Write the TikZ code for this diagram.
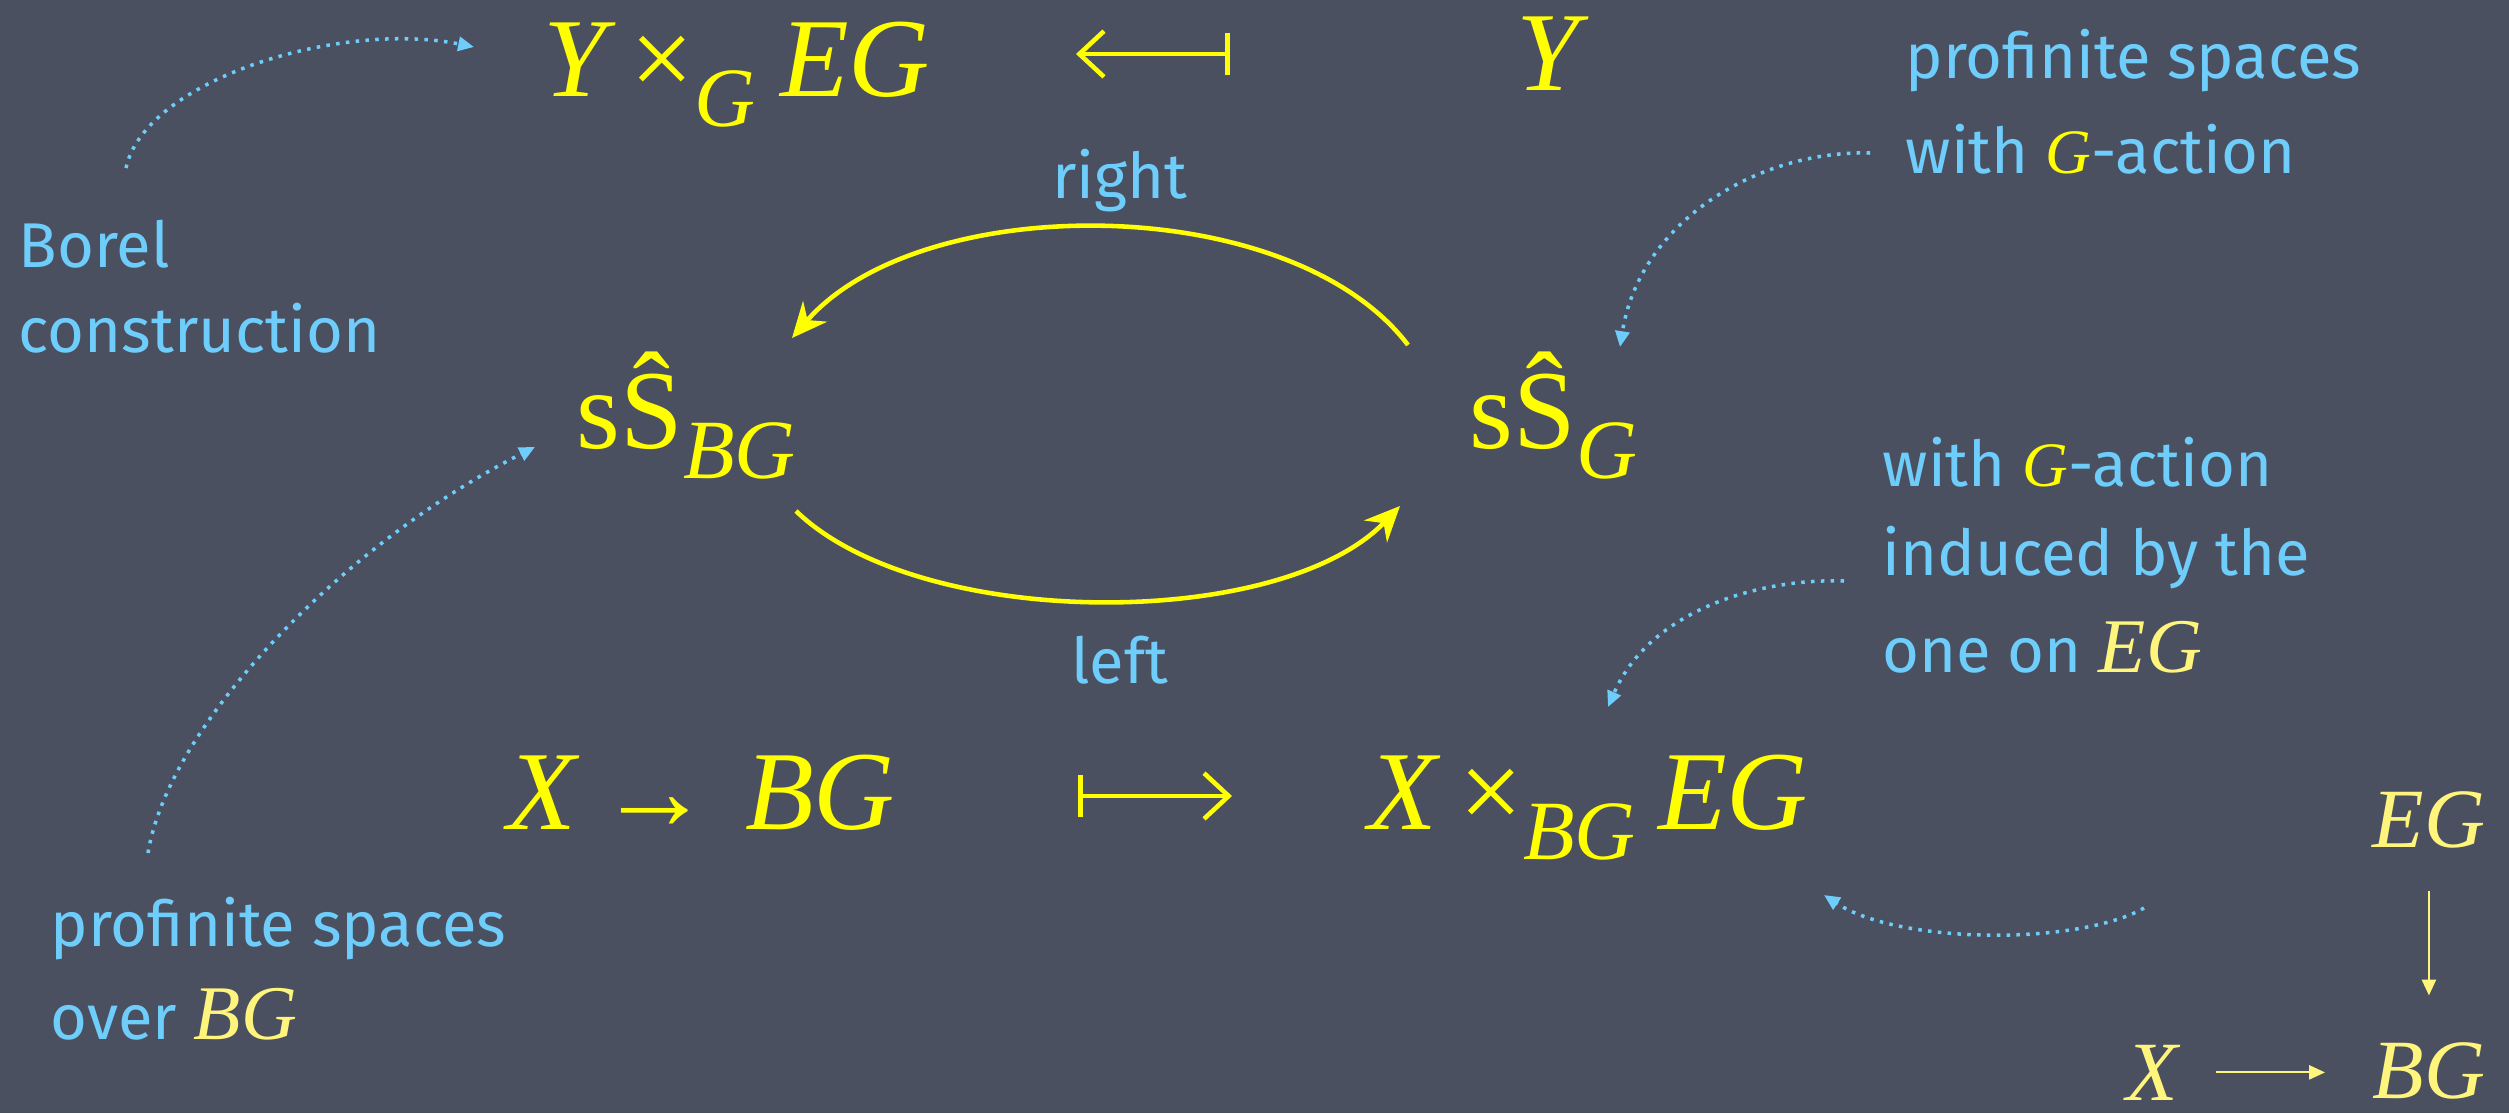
\documentclass[tikz,border=0pt]{standalone}
\usepackage{fontspec}
\setmainfont{Fira Sans}
\newfontfamily\mth{Liberation Serif}
\usetikzlibrary{arrows.meta}
\definecolor{bgc}{RGB}{74,80,96}
\definecolor{yel}{RGB}{255,255,0}
\definecolor{pyel}{RGB}{255,245,125}
\definecolor{cblue}{RGB}{110,205,250}
\newcommand\mvar[1]{{\mth\itshape #1}}
\newcommand\msub[1]{\raisebox{-0.27em}{\fontsize{24}{24}\selectfont\mth\itshape #1}}
\newcommand\mrm[1]{{\mth #1}}
\begin{document}
\begin{tikzpicture}[x=0.1mm,y=-0.1mm,
  big/.style={text=yel,font=\fontsize{32}{38}\selectfont,inner sep=0,anchor=base west},
  small/.style={text=pyel,font=\fontsize{24}{28}\selectfont,inner sep=0,anchor=base west},
  note/.style={text=cblue,font=\fontsize{18}{24}\selectfont,inner sep=0,anchor=base west},
  curvearrow/.style={draw=yel,line width=1.3pt,-{Stealth[length=10pt,width=9pt]}},
  maparrow/.style={draw=yel,line width=1.3pt,{Bar[width=12pt]}-{Straight Barb[length=7pt,width=13pt]}},
  thinarrow/.style={draw=pyel,line width=0.6pt,-{Triangle[length=4.5pt,width=4pt]}},
  hint/.style={draw=cblue,line width=1pt,dash pattern=on 1pt off 1.8pt,-{Triangle[length=4.5pt,width=4pt]}}]
\fill[bgc] (0,0) rectangle (2509,1113);
\useasboundingbox (0,0) rectangle (2509,1113);

% main objects
\node[big] (YEG) at (543,96) {\mvar{Y}\hspace{0.22em}\mrm{×}\msub{G}\hspace{0.22em}\mvar{EG}};
\node[big] (Y) at (1516,90) {\mvar{Y}};
\node[big] (sSBG) at (576,448) {\mrm{sŜ}\msub{BG}};
\node[big] (sSG) at (1469,448) {\mrm{sŜ}\msub{G}};
\node[big] (XBG) at (507,829) {\mvar{X}\hspace{0.2em}\mrm{→}\hspace{0.3em}\mvar{BG}};
\node[big] (XEG) at (1368,829) {\mvar{X}\hspace{0.2em}\mrm{×}\msub{BG}\hspace{0.2em}\mvar{EG}};

% mapsto arrows
\coordinate (mt1) at (1230,54);
\coordinate (mt2) at (1076,54);
\draw[maparrow] (mt1) -- (mt2);
\coordinate (mb1) at (1078,796);
\coordinate (mb2) at (1232,796);
\draw[maparrow] (mb1) -- (mb2);

% adjunction curves
\draw[curvearrow] ([shift={(-61,-103)}]sSG.base west) .. controls (1290,190) and (920,190) .. ([shift={(216,-110)}]sSBG.base west);
\draw[curvearrow] ([shift={(220,63)}]sSBG.base west) .. controls (920,631) and (1280,631) .. ([shift={(-69,58)}]sSG.base west);
\node[note,anchor=base] (right) at (1120,198) {right};
\node[note,anchor=base] (left) at (1120,683) {left};

% annotations
\node[note] (borel1) at (18,267) {Borel};
\node[note] (borel2) at (18,352) {construction};
\node[note] (tr1) at (1905,78) {profinite spaces};
\node[note] (tr2) at (1905,173) {with \textcolor{yel}{\mvar{G}}-action};
\node[note] (mr1) at (1882,486) {with \textcolor{yel}{\mvar{G}}-action};
\node[note] (mr2) at (1882,575) {induced by the};
\node[note] (mr3) at (1882,672) {one on \textcolor{pyel}{\fontsize{22}{24}\selectfont\mvar{EG}}};
\node[note] (bl1) at (50,946) {profinite spaces};
\node[note] (bl2) at (50,1039) {over \textcolor{pyel}{\fontsize{22}{24}\selectfont\mvar{BG}}};

% small diagram
\node[small] (sEG) at (2372,847) {\mvar{EG}};
\node[small] (sBG) at (2372,1098) {\mvar{BG}};
\node[small] (sX) at (2126,1100) {\mvar{X}};
\draw[thinarrow,shorten <=4.3mm,shorten >=4.6mm] (sEG.south) -- (sBG.north);
\draw[thinarrow,shorten <=3.7mm,shorten >=4.7mm] (sX.east) -- (sX.east -| sBG.west);

% dotted hints
\draw[hint] ([shift={(108,-99)}]borel1.base west) .. controls (145,80) and (340,20) .. ([shift={(-69,-49)}]YEG.base west);
\draw[hint] ([shift={(-35,-20)}]tr2.base west) .. controls (1760,150) and (1640,220) .. ([shift={(151,-101)}]sSG.base west);
\draw[hint] ([shift={(98,-93)}]bl1.base west) .. controls (170,720) and (350,540) .. ([shift={(-41,-1)}]sSBG.base west);
\draw[hint] ([shift={(-38,6)}]mr2.base west) .. controls (1760,578) and (1650,610) .. ([shift={(240,-122)}]XEG.base west);
\draw[hint] ([shift={(-228,61)}]sEG.base west) .. controls (2080,945) and (1900,945) .. ([shift={(456,66)}]XEG.base west);
\end{tikzpicture}
\end{document}
